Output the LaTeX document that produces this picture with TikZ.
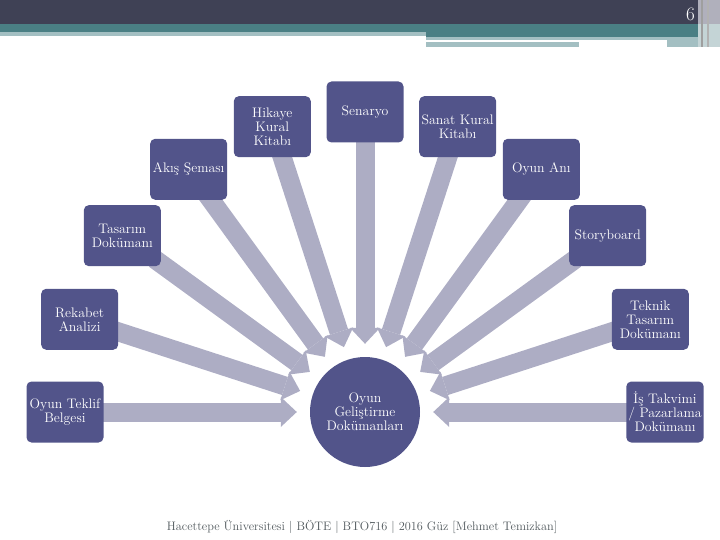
\documentclass[tikz,border=0pt]{standalone}
\usepackage{tikz}
\usetikzlibrary{arrows.meta,backgrounds}
\definecolor{hdrdark}{RGB}{63,65,85}
\definecolor{hdrteal}{RGB}{74,127,132}
\definecolor{hdrlight}{RGB}{163,191,194}
\definecolor{hdrgray}{RGB}{176,176,188}
\definecolor{hdrpale}{RGB}{196,212,214}
\definecolor{boxblue}{RGB}{82,84,138}
\definecolor{raygray}{RGB}{173,173,196}
\definecolor{foottext}{RGB}{80,88,92}
\tikzset{
  slide/.style={x=1pt, y=1pt},
  r box/.style={fill=boxblue, rounded corners=5pt, align=center, text=white, inner sep=2pt,
                minimum width=77pt, minimum height=61pt, font=\fontsize{13.8}{14}\selectfont},
  r hub/.style={circle, fill=boxblue, minimum size=110pt, align=center, text=white,
                inner sep=0pt, font=\fontsize{13.8}{14}\selectfont},
  r ray/.style={draw=raygray, line width=19pt, shorten >=13pt, shorten <=-8pt,
                -{Triangle[length=16pt, width=30pt, line width=0pt]}},
  r foot/.style={font=\fontsize{12.3}{13}\selectfont, text=foottext},
  r page/.style={font=\fontsize{19}{19}\selectfont, text=white},
}

\begin{document}
\begin{tikzpicture}[slide]
\useasboundingbox (0,0) rectangle (720,-540);
% ---- header bands ----
\fill[hdrdark]  (0,0) rectangle (698,-24);
\fill[hdrteal]  (0,-24) rectangle (698,-32);
\fill[hdrlight] (0,-32) rectangle (426,-36);
\fill[hdrteal]  (426,-32) rectangle (698,-37);
\fill[hdrlight] (426,-37) rectangle (698,-40);
\fill[hdrlight] (426,-42) rectangle (579,-47);
\fill[hdrlight] (667,-37) rectangle (698,-47);
\fill[hdrgray]  (698,0) rectangle (720,-24);
\fill[hdrpale]  (698,-24) rectangle (720,-47);
\draw[gray!75, line width=2pt] (701.5,0) -- (701.5,-47);
\draw[gray!60, line width=1.2pt] (708,0) -- (708,-47);
\node[r page] (pg) at (690.5,-14.5) {6};
% ---- hub and documents ----
\begin{scope}[shift={(365,-412)}]
\node[r hub] (dev) at (0,0) {Oyun\\Geliştirme\\Dokümanları};
\node[r box] (teklif)  at (180:300) {Oyun Teklif\\Belgesi};
\node[r box] (rekabet) at (162:300) {Rekabet\\Analizi};
\node[r box] (tasarim) at (144:300) {Tasarım\\Dokümanı};
\node[r box] (akis)    at (126:300) {Akış Şeması};
\node[r box] (hikaye)  at (108:300) {Hikaye\\Kural\\Kitabı};
\node[r box] (senaryo) at (90:300)  {Senaryo};
\node[r box] (sanat)   at (72:300)  {Sanat Kural\\Kitabı};
\node[r box] (oyunani) at (54:300)  {Oyun Anı};
\node[r box] (story)   at (36:300)  {Storyboard};
\node[r box] (teknik)  at (18:300)  {Teknik\\Tasarım\\Dokümanı};
\node[r box] (takvim)  at (0:300)   {İş Takvimi\\/ Pazarlama\\Dokümanı};
\end{scope}
% ---- rays into the hub ----
\begin{scope}[on background layer]
\draw[r ray] (teklif)--(dev); \draw[r ray] (rekabet)--(dev); \draw[r ray] (tasarim)--(dev);
\draw[r ray] (akis)--(dev); \draw[r ray] (hikaye)--(dev); \draw[r ray] (senaryo)--(dev);
\draw[r ray] (sanat)--(dev); \draw[r ray] (oyunani)--(dev); \draw[r ray] (story)--(dev);
\draw[r ray] (teknik)--(dev); \draw[r ray] (takvim)--(dev);
\end{scope}
% ---- footer ----
\node[r foot] (foot) at (362,-527) {Hacettepe Üniversitesi | BÖTE | BTO716 | 2016 Güz [Mehmet Temizkan]};
\end{tikzpicture}
\end{document}
